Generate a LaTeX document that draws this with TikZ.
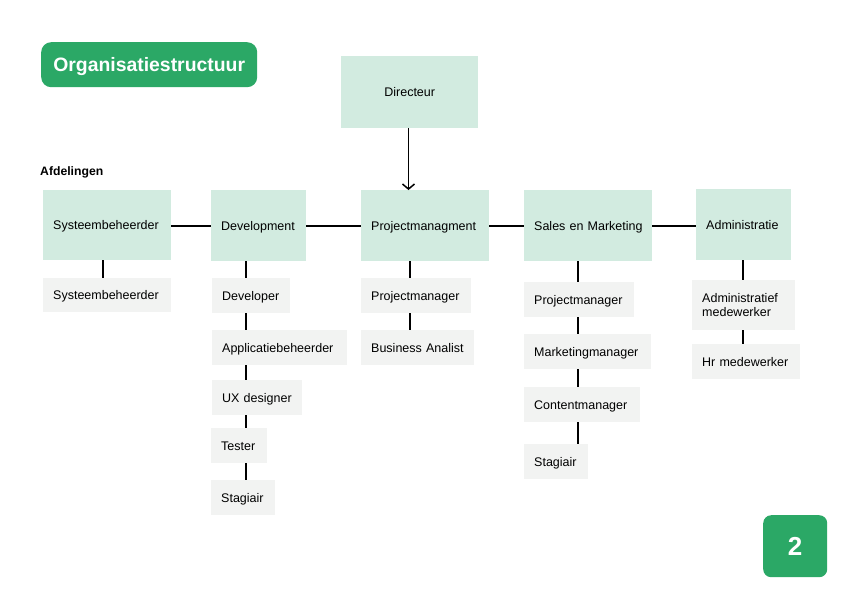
\documentclass[tikz,border=0pt]{standalone}
\usepackage{fontspec}
\setmainfont{Liberation Sans}
\usetikzlibrary{arrows.meta}
\definecolor{titlegreen}{HTML}{2BA866}
\definecolor{deptgreen}{HTML}{D2EBE0}
\definecolor{rolegray}{HTML}{F2F3F2}
\tikzset{
  basebox/.style={anchor=north west, inner xsep=10pt, inner ysep=0pt, align=left, font=\fontsize{12.5}{14.5}\selectfont, text=black},
  box/.style={basebox, text height=9pt, text depth=0pt},
  dept/.style={box, fill=deptgreen},
  role/.style={box, fill=rolegray},
  link/.style={line width=2pt, black},
}
\begin{document}
\begin{tikzpicture}[x=1pt,y=-1pt]
\useasboundingbox (0,0) rectangle (842,595);
\fill[white] (0,0) rectangle (842,595);
% title
\node[anchor=north west, fill=titlegreen, rounded corners=10pt, minimum width=216pt, minimum height=45pt, inner sep=0pt, text=white, text height=14pt, text depth=0pt, font=\bfseries\fontsize{19.4}{22}\selectfont] (title) at (41,42) {Organisatiestructuur};
\node[anchor=west, inner sep=0pt, font=\bfseries\fontsize{12.2}{14}\selectfont] (afd) at (40,172) {Afdelingen};
% directeur
\node[anchor=north west, fill=deptgreen, minimum width=137pt, minimum height=72pt, inner sep=0pt, text height=9pt, text depth=0pt, font=\fontsize{12.5}{14.5}\selectfont] (dir) at (341,56) {Directeur};
% departments
\node[dept, text width=108pt, minimum height=70pt] (sys) at (43,190) {\mbox{Systeembeheerder}};
\node[dept, text width=75pt, minimum height=71pt] (dev) at (211,190) {\mbox{Development}};
\node[dept, text width=108pt, minimum height=71pt] (pm) at (361,190) {\mbox{Projectmanagment}};
\node[dept, text width=108pt, minimum height=71pt] (sm) at (524,190) {\mbox{Sales en Marketing}};
\node[dept, text width=75pt, minimum height=71pt] (adm) at (696,189) {\mbox{Administratie}};
% roles
\node[role, text width=108pt, minimum height=34pt] (sys1) at (43,278) {Systeembeheerder};
\node[role, text width=58pt, minimum height=35pt] (dev1) at (212,278) {Developer};
\node[role, text width=115pt, minimum height=35pt] (dev2) at (212,330) {Applicatiebeheerder};
\node[role, text width=70pt, minimum height=35pt] (dev3) at (212,380) {UX designer};
\node[role, text width=36pt, minimum height=35pt] (dev4) at (211,428) {Tester};
\node[role, text width=44pt, minimum height=35pt] (dev5) at (211,480) {Stagiair};
\node[role, text width=90pt, minimum height=35pt] (pm1) at (361,278) {Projectmanager};
\node[role, text width=93pt, minimum height=35pt] (pm2) at (361,330) {Business Analist};
\node[role, text width=90pt, minimum height=35pt] (sm1) at (524,282) {Projectmanager};
\node[role, text width=107pt, minimum height=35pt] (sm2) at (524,334) {Marketingmanager};
\node[role, text width=96pt, minimum height=35pt] (sm3) at (524,387) {Contentmanager};
\node[role, text width=44pt, minimum height=35pt] (sm4) at (524,444) {Stagiair};
\node[basebox, fill=rolegray, text width=83pt, minimum height=50pt] (adm1) at (692,280) {Administratief\\medewerker};
\node[role, text width=88pt, minimum height=35pt] (adm2) at (692,344) {Hr medewerker};
% page number
\node[anchor=north west, fill=titlegreen, rounded corners=8pt, minimum width=64pt, minimum height=62pt, inner sep=0pt, text=white, text height=19pt, text depth=0pt, font=\bfseries\fontsize{26}{30}\selectfont] (page) at (763,515) {2};
% connectors
\draw[line width=1.7pt, -{Straight Barb[length=5pt,width=12pt,line width=1.5pt]}] (dir.south -| 408.5,0) -- (pm.north -| 408.5,0);
\draw[link] (sys.east |- 0,225.5) -- (dev.west |- 0,225.5);
\draw[link] (dev.east |- 0,225.5) -- (pm.west |- 0,225.5);
\draw[link] (pm.east |- 0,225.5) -- (sm.west |- 0,225.5);
\draw[link] (sm.east |- 0,225.5) -- (adm.west |- 0,225.5);
\draw[link] (sys.south -| 103,0) -- (sys1.north -| 103,0);
\draw[link] (dev.south -| 246,0) -- (dev1.north -| 246,0);
\draw[link] (dev1.south -| 246,0) -- (dev2.north -| 246,0);
\draw[link] (dev2.south -| 246,0) -- (dev3.north -| 246,0);
\draw[link] (dev3.south -| 246,0) -- (dev4.north -| 246,0);
\draw[link] (dev4.south -| 246,0) -- (dev5.north -| 246,0);
\draw[link] (pm.south -| 410,0) -- (pm1.north -| 410,0);
\draw[link] (pm1.south -| 410,0) -- (pm2.north -| 410,0);
\draw[link] (sm.south -| 578,0) -- (sm1.north -| 578,0);
\draw[link] (sm1.south -| 578,0) -- (sm2.north -| 578,0);
\draw[link] (sm2.south -| 578,0) -- (sm3.north -| 578,0);
\draw[link] (sm3.south -| 578,0) -- (sm4.north -| 578,0);
\draw[link] (adm.south -| 742.5,0) -- (adm1.north -| 742.5,0);
\draw[link] (adm1.south -| 742.5,0) -- (adm2.north -| 742.5,0);
\end{tikzpicture}
\end{document}
